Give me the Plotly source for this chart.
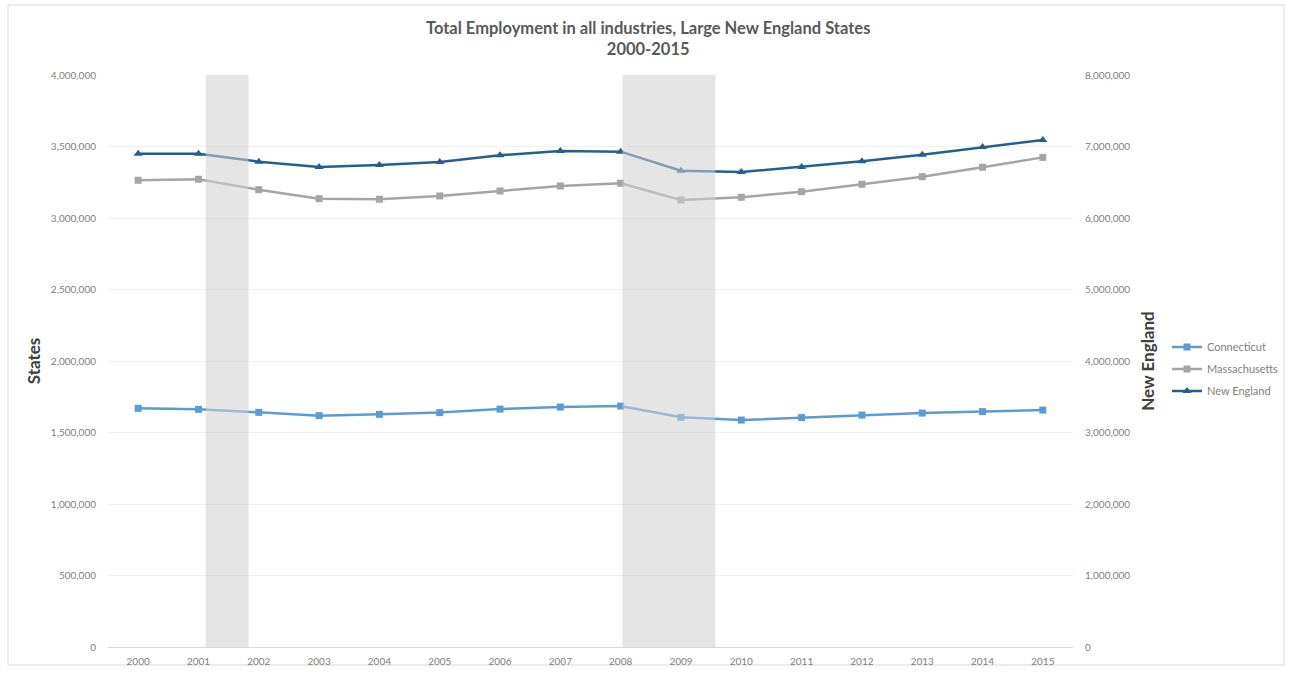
import plotly.graph_objects as go

years = list(range(2000, 2016))
year_labels = [str(y) for y in years]

connecticut = [1669000, 1662000, 1641000, 1618000, 1627000, 1639000, 1664000, 1678000,
               1685000, 1606000, 1587000, 1604000, 1622000, 1636000, 1646000, 1657000]
massachusetts = [3264000, 3271000, 3198000, 3135000, 3131000, 3154000, 3189000, 3224000,
                 3243000, 3126000, 3145000, 3184000, 3236000, 3289000, 3355000, 3424000]
new_england = [6899000, 6899000, 6788000, 6713000, 6741000, 6783000, 6877000, 6937000,
               6928000, 6662000, 6643000, 6713000, 6793000, 6886000, 6993000, 7091000]

# Recession periods (fractional years)
recession_start = [2001.12, 2008.03]
recession_end = [2001.83, 2009.57]

left_ticks = [0, 500000, 1000000, 1500000, 2000000, 2500000, 3000000, 3500000, 4000000]
right_ticks = [0, 1000000, 2000000, 3000000, 4000000, 5000000, 6000000, 7000000, 8000000]

FONT = "Lato"
TICK = dict(family=FONT, size=10, color="#808080")

PLOT_L, PLOT_R = 108, 1073
PLOT_W = PLOT_R - PLOT_L

fig = go.Figure()
fig.add_trace(go.Scatter(
    x=years, y=connecticut, name="Connecticut", mode="lines+markers", legendgroup="ct",
    line=dict(color="#5B9BD5", width=2.5),
    marker=dict(symbol="square", size=7, color="#5B9BD5"),
))
fig.add_trace(go.Scatter(
    x=years, y=massachusetts, name="Massachusetts", mode="lines+markers", legendgroup="ma",
    line=dict(color="#A5A5A5", width=2.5),
    marker=dict(symbol="square", size=7, color="#A5A5A5"),
))
fig.add_trace(go.Scatter(
    x=years, y=new_england, name="New England", mode="lines+markers", yaxis="y2",
    legendgroup="ne",
    line=dict(color="#255E91", width=2.5),
    marker=dict(symbol="triangle-up", size=8, color="#255E91"),
))

for x0, x1 in zip(recession_start, recession_end):
    fig.add_shape(type="rect", xref="x", yref="y domain", x0=x0, x1=x1, y0=0, y1=1,
                  fillcolor="#d0d0d0", opacity=0.55, line=dict(width=0), layer="above")

# Light frame around the chart
fig.add_shape(type="rect", xref="paper", yref="paper",
              x0=(8 - PLOT_L) / PLOT_W, x1=(1284 - PLOT_L) / PLOT_W,
              y0=(647 - 665) / 572, y1=(647 - 5) / 572,
              line=dict(color="#d9d9d9", width=1), fillcolor="rgba(0,0,0,0)", layer="below")

# Chart title
fig.add_annotation(
    text="<b>Total Employment in all industries, Large New England States<br>2000-2015</b>",
    xref="paper", yref="paper", x=(648 - PLOT_L) / PLOT_W, y=(647 - 38) / 572,
    xanchor="center", yanchor="middle", showarrow=False,
    font=dict(family=FONT, size=16.5, color="#595959"),
)

fig.update_layout(
    width=1291, height=673,
    margin=dict(l=PLOT_L, r=1291 - PLOT_R, t=75, b=26, autoexpand=False),
    paper_bgcolor="white", plot_bgcolor="white",
    xaxis=dict(
        range=[1999.5, 2015.5], tickmode="array", tickvals=years, ticktext=year_labels,
        showgrid=False, zeroline=False, showline=True, linecolor="#d9d9d9", linewidth=1,
        tickfont=TICK, ticks="", automargin=False, ticklabelstandoff=5,
    ),
    yaxis=dict(
        range=[0, 4000000], tickmode="array", tickvals=left_ticks, tickformat=",d",
        showgrid=True, gridcolor="#f0f0f0", zeroline=False, tickfont=TICK, automargin=False,
        ticklabelstandoff=11,
        title=dict(text="<b>States</b>", font=dict(family=FONT, size=17, color="#404040"),
                   standoff=5),
    ),
    yaxis2=dict(
        range=[0, 8000000], tickmode="array", tickvals=right_ticks, tickformat=",d",
        overlaying="y", side="right", showgrid=False, zeroline=False, tickfont=TICK,
        automargin=False, ticklabelstandoff=11,
        title=dict(text="<b>New England</b>", font=dict(family=FONT, size=17, color="#404040"),
                   standoff=12),
    ),
    legend=dict(
        x=(1167 - PLOT_L) / PLOT_W, y=(647 - 369) / 572, xanchor="left", yanchor="middle",
        font=dict(family=FONT, size=11, color="#7f7f7f"),
        bgcolor="rgba(0,0,0,0)", itemwidth=30, tracegroupgap=3,
    ),
    showlegend=True,
)

fig.write_html("out.html")
